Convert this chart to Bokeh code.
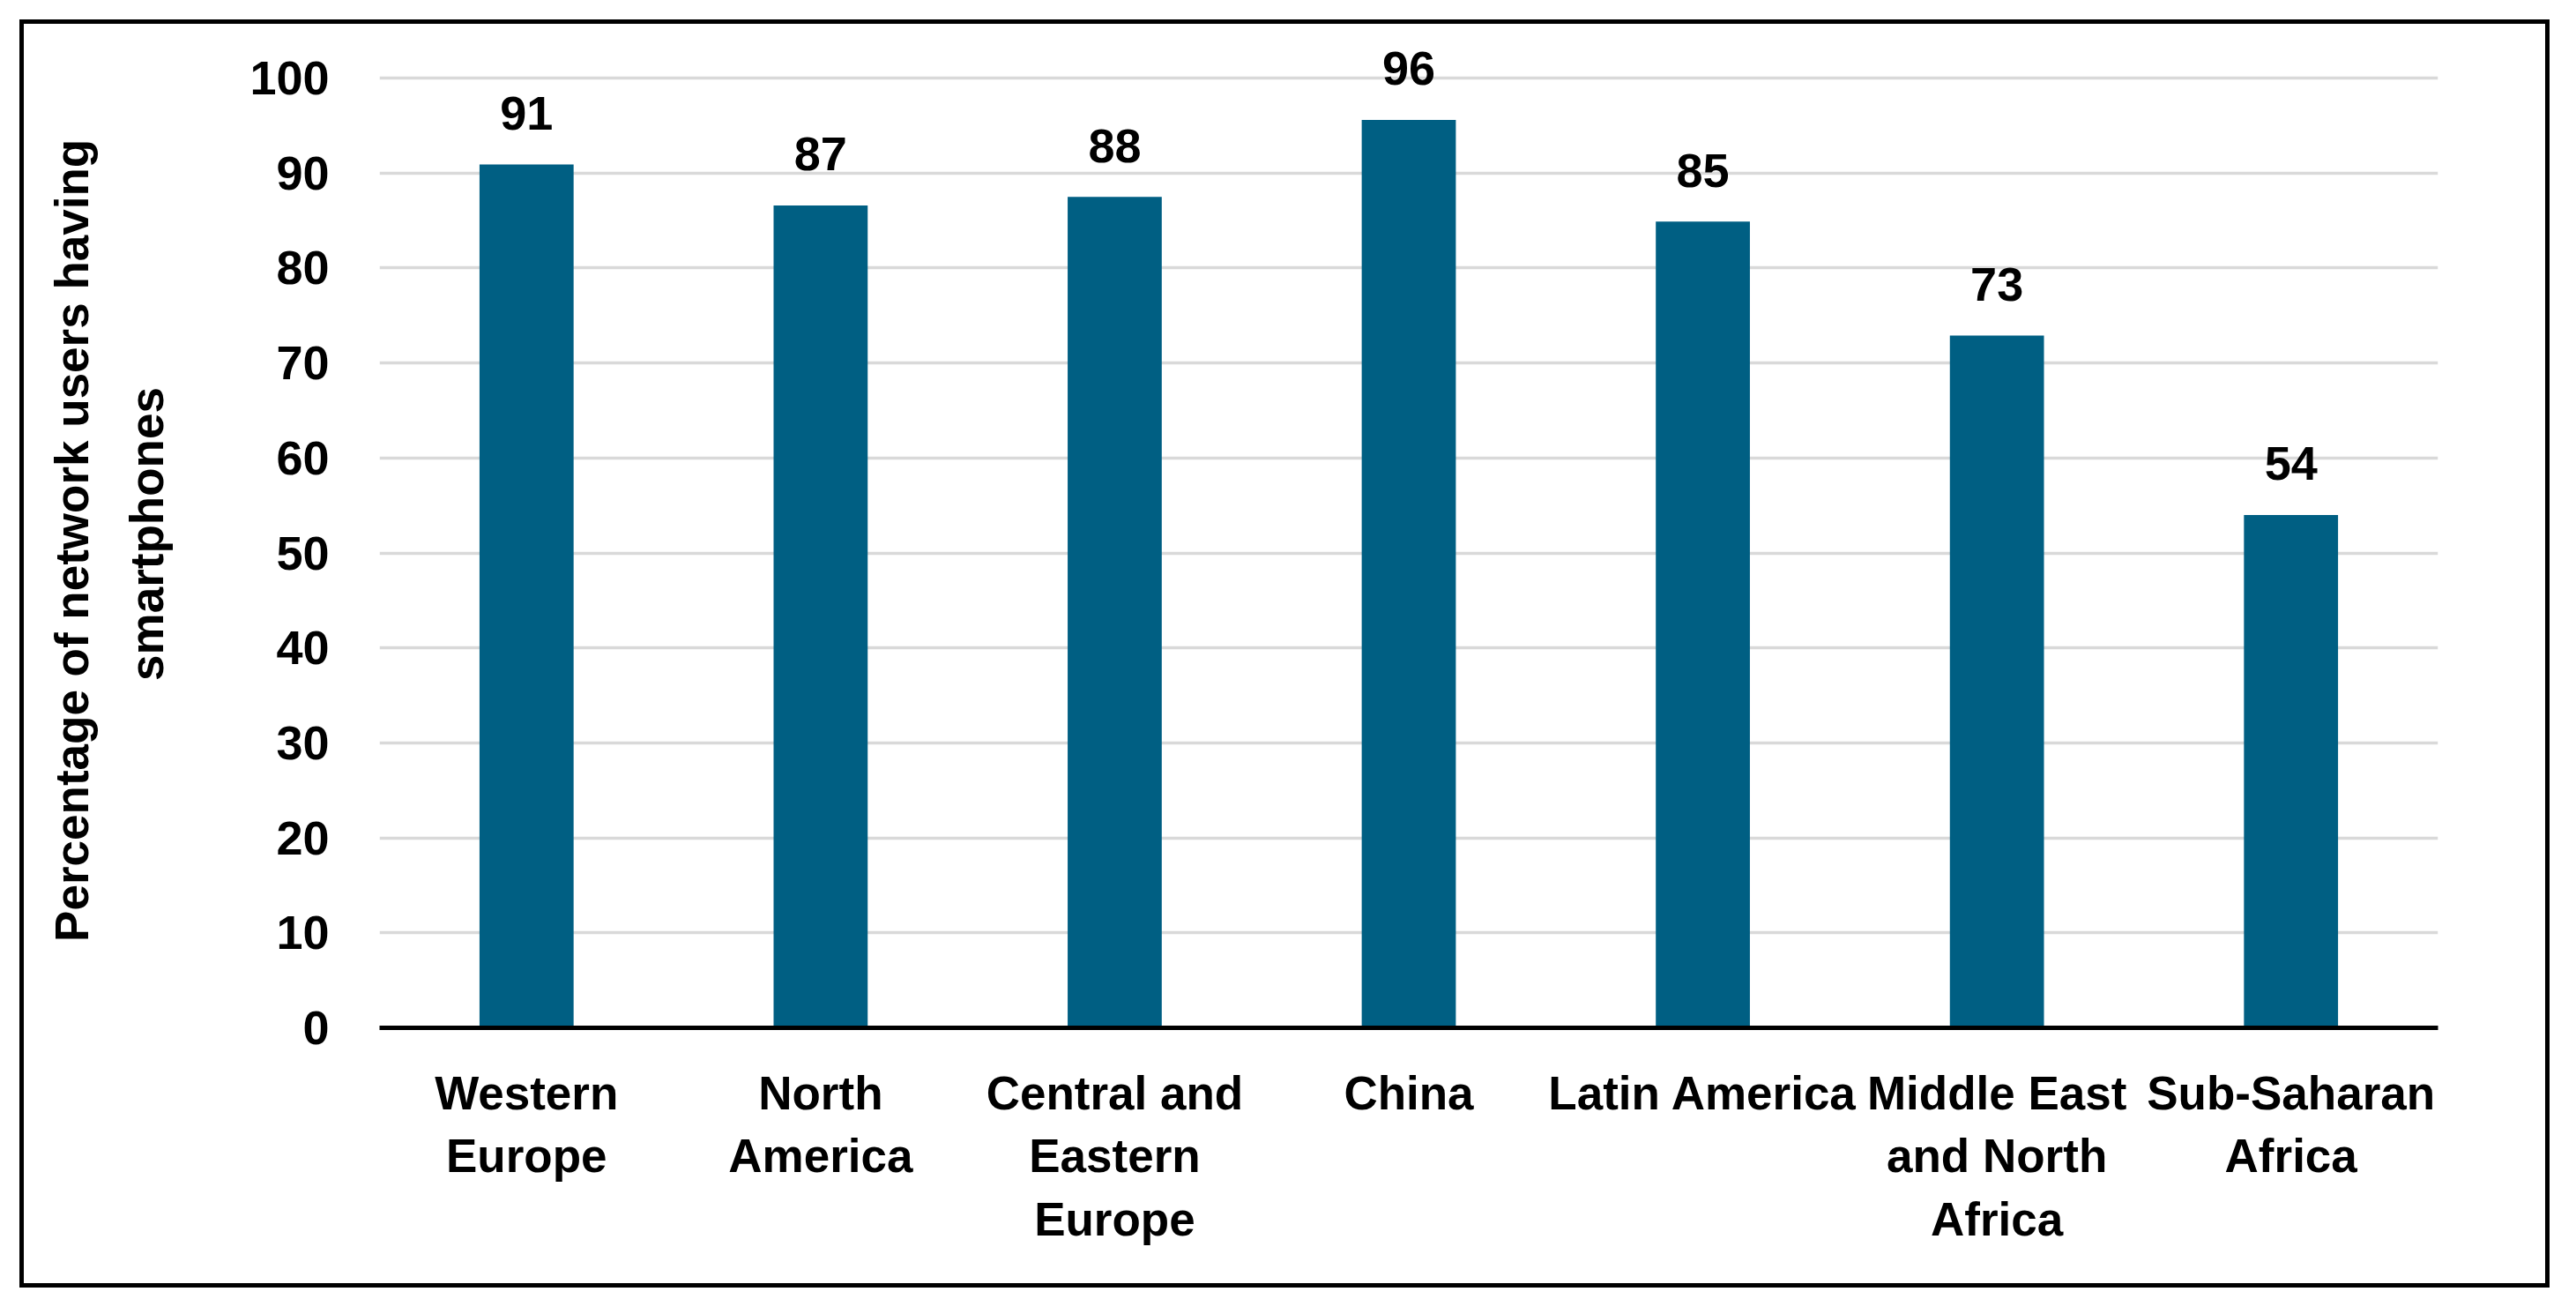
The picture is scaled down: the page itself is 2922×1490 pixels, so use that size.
from bokeh.plotting import figure
from bokeh.models import FactorRange, Range1d, FixedTicker, ColumnDataSource
from bokeh.core.properties import value
from bokeh.embed import file_html
from bokeh.resources import INLINE

categories = ["Western\nEurope", "North\nAmerica", "Central and\nEastern\nEurope", "China",
              "Latin America", "Middle East\nand North\nAfrica", "Sub-Saharan\nAfrica"]
values = [90.9, 86.6, 87.5, 95.6, 84.9, 72.9, 54.0]
value_labels = ["91", "87", "88", "96", "85", "73", "54"]
y_ticks = [0, 10, 20, 30, 40, 50, 60, 70, 80, 90, 100]
y_title = "Percentage of  network users having\nsmartphones"

FONT = "Liberation Sans"
BAR = "#005F83"

W, H = 2914, 1482
p = figure(width=W, height=H, x_range=FactorRange(*categories, range_padding=0),
           y_range=Range1d(0, 104), output_backend="svg", toolbar_location=None,
           min_border_left=430, min_border_right=W - 2765, min_border_top=45,
           min_border_bottom=H - 1165)
p.outline_line_color = None
p.background_fill_color = "white"
p.border_fill_color = None
p.styles = {"outline": "5px solid black", "outline-offset": "-27.5px"}

src = ColumnDataSource(dict(cat=categories, val=values, lab=value_labels))
p.vbar(x="cat", top="val", width=0.32, bottom=0, source=src, fill_color=BAR, line_color=None)
p.text(x="cat", y="val", text="lab", source=src, y_offset=-58, text_align="center",
       text_baseline="alphabetic", text_font=value(FONT), text_font_style="bold",
       text_font_size="54px", text_color="black")

# grid
p.xgrid.grid_line_color = None
p.ygrid.ticker = FixedTicker(ticks=y_ticks)
p.ygrid.grid_line_color = "#D9D9D9"
p.ygrid.grid_line_width = 3.5

# y axis
ya = p.yaxis[0]
ya.ticker = FixedTicker(ticks=y_ticks)
ya.axis_line_color = None
ya.major_tick_line_color = None
ya.minor_tick_line_color = None
ya.major_tick_out = 0
ya.major_tick_in = 0
ya.major_label_standoff = 57
ya.major_label_text_font = FONT
ya.major_label_text_font_style = "bold"
ya.major_label_text_font_size = "54px"
ya.major_label_text_color = "black"
ya.axis_label = y_title
ya.axis_label_text_font = FONT
ya.axis_label_text_font_style = "bold"
ya.axis_label_text_font_size = "53px"
ya.axis_label_text_color = "black"
ya.axis_label_standoff = 84
ya.axis_label_text_line_height = 1.45

# x axis
xa = p.xaxis[0]
xa.axis_line_color = "black"
xa.axis_line_width = 5
xa.major_tick_line_color = None
xa.minor_tick_line_color = None
xa.major_tick_out = 0
xa.major_tick_in = 0
xa.major_label_standoff = 44
xa.major_label_text_font = FONT
xa.major_label_text_font_style = "bold"
xa.major_label_text_font_size = "53px"
xa.major_label_text_color = "black"
xa.major_label_text_line_height = 1.22
xa.major_label_orientation = "horizontal"

open("out.html", "w").write(file_html(p, INLINE))
